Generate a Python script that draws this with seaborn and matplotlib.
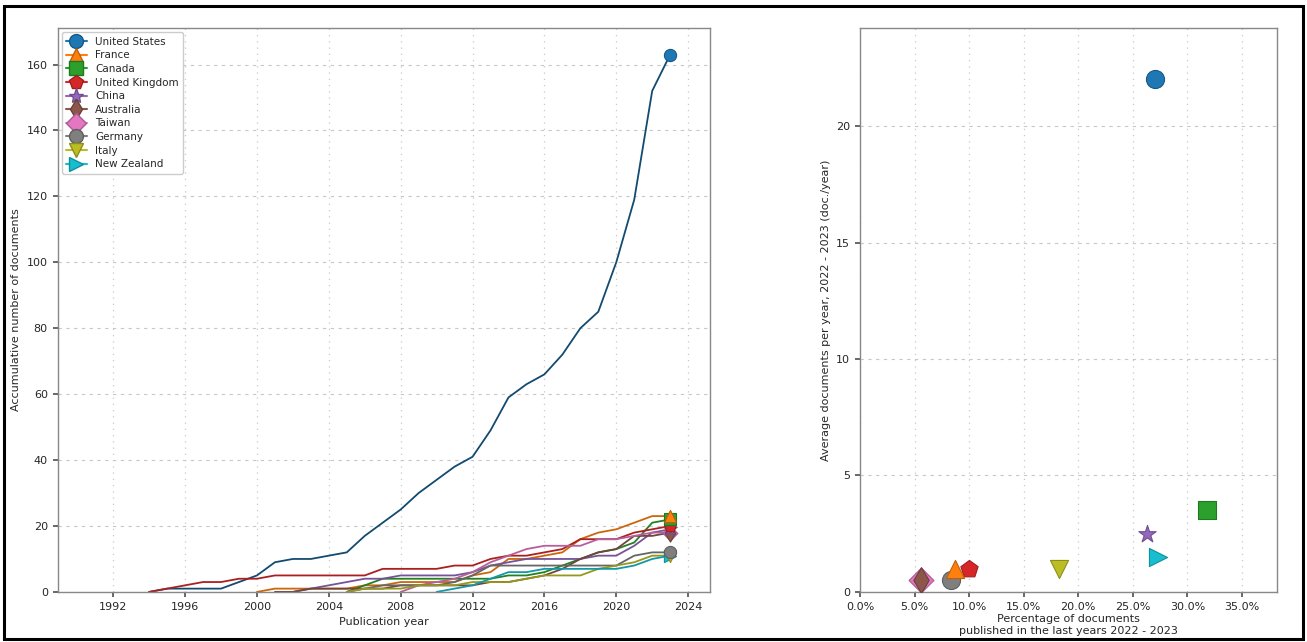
import numpy as np
import pandas as pd
import matplotlib
matplotlib.use("Agg")
import matplotlib.pyplot as plt
import matplotlib.colors as mcolors
from matplotlib.lines import Line2D
from matplotlib.patches import Rectangle
from matplotlib.ticker import PercentFormatter
import seaborn as sns

# ---------------- data ----------------
countries = ["United States", "France", "Canada", "United Kingdom", "China",
             "Australia", "Taiwan", "Germany", "Italy", "New Zealand"]
colors = ["#1f77b4", "#ff7f0e", "#2ca02c", "#d62728", "#9467bd",
          "#8c564b", "#e377c2", "#7f7f7f", "#bcbd22", "#17becf"]
markers = ["o", "^", "s", "p", "*", "d", "D", "o", "v", ">"]

years = list(range(1994, 2024))
N = None
us = [0, 1, 1, 1, 1, 3, 5, 9, 10, 10, 11, 12, 17, 21, 25, 30, 34, 38, 41, 49,
      59, 63, 66, 72, 80, 85, 100, 119, 152, 163]
france = [N, N, N, N, N, N, 0, 1, 1, 1, 1, 1, 2, 2, 3, 3, 3, 3, 5, 6,
          10, 10, 11, 12, 16, 18, 19, 21, 23, 23]
canada = [N, N, N, N, N, N, N, N, N, N, N, 0, 2, 4, 4, 4, 4, 4, 4, 4,
          5, 5, 6, 8, 10, 12, 13, 15, 21, 22]
uk = [0, 1, 2, 3, 3, 4, 4, 5, 5, 5, 5, 5, 5, 7, 7, 7, 7, 8, 8, 10,
      11, 11, 12, 13, 16, 16, 16, 18, 19, 20]
china = [N, N, N, N, N, N, N, N, 0, 1, 2, 3, 4, 4, 5, 5, 5, 5, 6, 8,
         9, 10, 10, 10, 10, 11, 11, 14, 18, 19]
australia = [N, N, N, N, N, N, N, 0, 0, 1, 1, 1, 1, 1, 2, 2, 2, 2, 2, 3,
             3, 4, 5, 7, 10, 12, 13, 17, 17, 18]
taiwan = [N, N, N, N, N, N, N, N, N, N, N, N, N, N, 0, 2, 3, 4, 6, 9,
          11, 13, 14, 14, 14, 16, 16, 17, 18, 18]
germany = [N, N, N, N, N, N, N, N, N, N, N, 0, 1, 2, 2, 2, 2, 3, 5, 8,
           8, 8, 8, 8, 8, 8, 8, 11, 12, 12]
italy = [N, N, N, N, N, N, N, N, N, N, N, 0, 1, 1, 1, 2, 2, 2, 3, 3,
         3, 4, 5, 5, 5, 7, 8, 9, 11, 11]
new_zealand = [N, N, N, N, N, N, N, N, N, N, N, N, N, N, N, N, 0, 1, 2, 4,
               6, 6, 7, 7, 7, 7, 7, 8, 10, 11]
series = [us, france, canada, uk, china, australia, taiwan, germany, italy, new_zealand]

# right chart: share of documents in 2022-2023 and average docs/year in 2022-2023
pct_recent = [27.0, 8.7, 31.8, 10.0, 26.3, 5.6, 5.6, 8.3, 18.2, 27.3]
avg_recent = [22.0, 1.0, 3.5, 1.0, 2.5, 0.5, 0.5, 0.5, 1.0, 1.5]

# ---------------- build frames ----------------
rows = []
for c, s in zip(countries, series):
    for y, v in zip(years, s):
        if v is not None:
            rows.append({"country": c, "year": y, "docs": v})
df = pd.DataFrame(rows)
last = df[df["year"] == 2023]
right = pd.DataFrame({"country": countries, "pct": pct_recent, "avg": avg_recent})

def darker(c, f=0.78):
    r, g, b = mcolors.to_rgb(c)
    return (r * f, g * f, b * f)

pal = dict(zip(countries, colors))
line_pal = {c: darker(col, 0.8) for c, col in pal.items()}
line_pal["United States"] = darker("#1f77b4", 0.62)
mk = dict(zip(countries, markers))
msize = {"o": 110, "^": 110, "s": 100, "p": 120, "*": 150, "d": 110, "D": 80, "v": 110, ">": 110}

sns.set_theme(style="ticks")
plt.rcParams["font.family"] = ["DejaVu Sans"]

fig = plt.figure(figsize=(13.07, 6.42), dpi=100)
ax1 = fig.add_axes([0.044, 0.078, 0.499, 0.878])
ax2 = fig.add_axes([0.658, 0.078, 0.319, 0.878])

# ---- left: accumulative documents ----
sns.lineplot(data=df, x="year", y="docs", hue="country", palette=line_pal,
             hue_order=countries, linewidth=1.3, legend=False, ax=ax1)
draw_order = ["New Zealand", "Italy", "Germany", "Taiwan", "Australia", "China",
              "United Kingdom", "Canada", "France", "United States"]
for i, c in enumerate(draw_order):
    sub = last[last["country"] == c]
    sns.scatterplot(x=sub["year"], y=sub["docs"], marker=mk[c], s=msize[mk[c]] * 0.7,
                    color=pal[c], edgecolor=darker(pal[c], 0.75), linewidth=0.8,
                    zorder=5 + i, legend=False, ax=ax1)

ax1.set_xlim(1988.9, 2025.2)
ax1.set_ylim(0, 171)
ax1.set_xticks(range(1992, 2025, 4))
ax1.set_yticks(range(0, 161, 20))
ax1.set_xlabel("Publication year", fontsize=8)
ax1.set_ylabel("Accumulative number of documents", fontsize=8)

handles = [Line2D([0], [0], color=pal[c], marker=mk[c],
                  markersize=10 if mk[c] != "*" else 11,
                  markeredgecolor=darker(pal[c], 0.75), linewidth=1.5)
           for c in countries]
ax1.legend(handles, countries, loc="upper left", fontsize=7.5, frameon=True,
           framealpha=1, edgecolor="#cccccc", handlelength=2.0,
           borderpad=0.4, labelspacing=0.35, borderaxespad=0.4)

# ---- right: recent activity ----
right_order = ["United States", "Canada", "United Kingdom", "China",
               "Taiwan", "Australia", "Germany", "France", "Italy", "New Zealand"]
for i, c in enumerate(right_order):
    sub = right[right["country"] == c]
    sns.scatterplot(data=sub, x="pct", y="avg", marker=mk[c],
                    s=170 if mk[c] != "D" else 160,
                    color=pal[c], edgecolor=darker(pal[c], 0.75), linewidth=0.8,
                    legend=False, ax=ax2, zorder=5 + i)

ax2.set_xlim(0, 38.2)
ax2.set_ylim(0, 24.2)
ax2.set_xticks(np.arange(0, 36, 5))
ax2.set_yticks([0, 5, 10, 15, 20])
ax2.xaxis.set_major_formatter(PercentFormatter(100, decimals=1))
ax2.set_xlabel("Percentage of documents\npublished in the last years 2022 - 2023",
               fontsize=8, labelpad=2)
ax2.set_ylabel("Average documents per year, 2022 - 2023 (doc./year)", fontsize=8)

for ax in (ax1, ax2):
    ax.grid(axis="y", linestyle=(0, (3, 4)), color="#c8c8c8", linewidth=0.8)
    ax.grid(axis="x", linestyle=(0, (1, 4)), color="#c8c8c8", linewidth=0.9)
    ax.set_axisbelow(True)
    ax.tick_params(labelsize=8, length=3.5, color="#555555")
    for sp in ax.spines.values():
        sp.set_color("#888888")
        sp.set_linewidth(1.0)

fig.patches.append(Rectangle((0.003, 0.005), 0.994, 0.985, transform=fig.transFigure,
                             fill=False, edgecolor="black", linewidth=2.2))

fig.savefig("out.png", dpi=100)
